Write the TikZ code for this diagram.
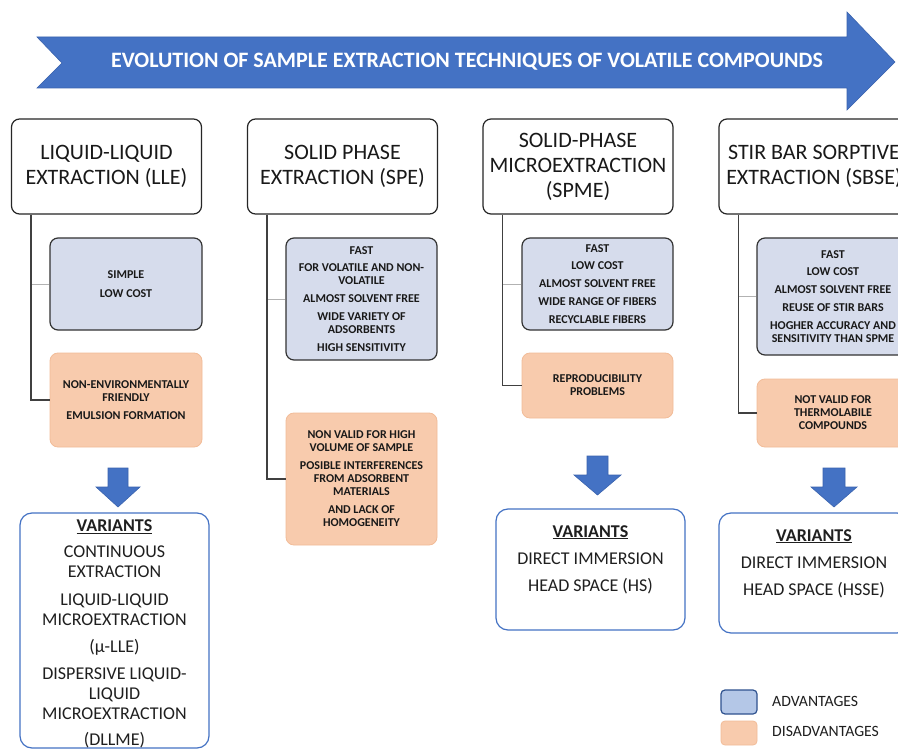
\documentclass[tikz,border=0pt]{standalone}
\usepackage{fontspec}
\setmainfont{Carlito}
\definecolor{arrowblue}{HTML}{4472C4}
\definecolor{arrowedge}{HTML}{3A63AE}
\definecolor{advfill}{HTML}{D6DCEC}
\definecolor{disfill}{HTML}{F8CBAD}
\definecolor{disedge}{HTML}{F2BC98}
\definecolor{legadv}{HTML}{B4C7E7}
\definecolor{legedge}{HTML}{2F528F}
\tikzset{
  hdr/.style={draw=black!85, line width=1.2pt, rounded corners=8pt, fill=white,
    align=center, inner sep=0pt, minimum width=190pt, minimum height=95pt,
    font=\fontsize{22}{25}\selectfont, text=black!90},
  advbox/.style={draw=black!80, line width=1.2pt, rounded corners=8pt, fill=advfill,
    align=center, inner sep=0pt, font=\bfseries\fontsize{12}{13}\selectfont, text=black!90},
  disbox/.style={draw=disedge, line width=0.8pt, rounded corners=8pt, fill=disfill,
    align=center, inner sep=0pt, font=\bfseries\fontsize{12}{13}\selectfont, text=black!90},
  varbox/.style={draw=arrowblue, line width=1.2pt, rounded corners=12pt, fill=white,
    inner sep=0pt},
  vartext/.style={align=center, anchor=north, inner sep=0pt,
    font=\fontsize{18}{20}\selectfont, text=black!88},
  conn/.style={draw=black!75, line width=1.6pt},
  lightconn/.style={draw=black!30, line width=0.8pt},
  downarrow/.style={fill=arrowblue, draw=arrowedge, line width=0.6pt},
  legtext/.style={anchor=west, inner sep=0pt, font=\fontsize{15.7}{18}\selectfont, text=black!88}
}
\begin{document}
\begin{tikzpicture}[x=1pt,y=-1pt]
\clip (0,0) rectangle (898,749);
\fill[white] (0,0) rectangle (898,749);
% title arrow
\filldraw[fill=arrowblue, draw=arrowedge, line width=0.6pt]
  (37,37) -- (847,37) -- (847,12) -- (895,62) -- (847,110) -- (847,88) -- (37,88) -- (62,63) -- cycle;
\node[text=white, font=\bfseries\fontsize{22}{24}\selectfont] (title) at (467,62)
  {EVOLUTION OF SAMPLE EXTRACTION TECHNIQUES OF VOLATILE COMPOUNDS};

% headers
\node[hdr] (h1) at (106.5,166.5) {LIQUID-LIQUID\\EXTRACTION (LLE)};
\node[hdr] (h2) at (342.5,166.5) {SOLID PHASE\\EXTRACTION (SPE)};
\node[hdr] (h3) at (578,166.5) {SOLID-PHASE\\MICROEXTRACTION\\(SPME)};
\node[hdr] (h4) at (814,166.5) {STIR BAR SORPTIVE\\EXTRACTION (SBSE)};

% advantage / disadvantage boxes
\node[advbox, minimum width=152pt, minimum height=92pt] (a1) at (126,284)
  {SIMPLE\\[6pt]LOW COST};
\node[disbox, minimum width=152pt, minimum height=94pt] (d1) at (126,400)
  {NON-ENVIRONMENTALLY\\FRIENDLY\\[5pt]EMULSION FORMATION};

\node[advbox, minimum width=151pt, minimum height=122pt] (a2) at (361.5,299)
  {FAST\\[4pt]FOR VOLATILE AND NON-\\VOLATILE\\[5pt]ALMOST SOLVENT FREE\\[5pt]WIDE VARIETY OF\\ADSORBENTS\\[5pt]HIGH SENSITIVITY};
\node[disbox, minimum width=151pt, minimum height=132pt] (d2) at (361.5,479)
  {NON VALID FOR HIGH\\VOLUME OF SAMPLE\\[5pt]POSIBLE INTERFERENCES\\FROM ADSORBENT\\MATERIALS\\[5pt]AND LACK OF\\HOMOGENEITY};

\node[advbox, minimum width=151pt, minimum height=92pt] (a3) at (597.5,284)
  {FAST\\[4pt]LOW COST\\[5pt]ALMOST SOLVENT FREE\\[5pt]WIDE RANGE OF FIBERS\\[5pt]RECYCLABLE FIBERS};
\node[disbox, minimum width=151pt, minimum height=65pt] (d3) at (597.5,385.5)
  {REPRODUCIBILITY\\PROBLEMS};

\node[advbox, minimum width=152pt, minimum height=117pt] (a4) at (833,296.5)
  {FAST\\[4pt]LOW COST\\[5pt]ALMOST SOLVENT FREE\\[5pt]REUSE OF STIR BARS\\[5pt]HOGHER ACCURACY AND\\SENSITIVITY THAN SPME};
\node[disbox, minimum width=152pt, minimum height=68pt] (d4) at (833,413)
  {NOT VALID FOR\\THERMOLABILE\\COMPOUNDS};

% connectors
\foreach \h/\a/\d in {h1/a1/d1, h2/a2/d2, h3/a3/d3, h4/a4/d4}{
  \coordinate (\h top) at ([xshift=20pt]\h.south west);
  \draw[lightconn] (\h top |- \a.west) -- (\a.west);
  \draw[conn] (\h top) |- (\d.west);
}

% down arrows
\filldraw[downarrow] (108,468) -- (128,468) -- (128,487) -- (140,487) -- (118,507) -- (96,487) -- (108,487) -- cycle;
\filldraw[downarrow] (587,456) -- (608,456) -- (608,475) -- (621,475) -- (597.5,495) -- (574,475) -- (587,475) -- cycle;
\filldraw[downarrow] (823,468) -- (845,468) -- (845,487) -- (857,487) -- (834,507) -- (811,487) -- (823,487) -- cycle;

% variants boxes
\node[varbox, minimum width=189pt, minimum height=235pt] (v1) at (114.5,630.5) {};
\node[vartext] (v1t) at (114.5,519.5)
  {\textbf{\underline{VARIANTS}}\\[6pt]CONTINUOUS\\EXTRACTION\\[8pt]LIQUID-LIQUID\\MICROEXTRACTION\\[7pt](μ-LLE)\\[7pt]DISPERSIVE LIQUID-\\LIQUID\\MICROEXTRACTION\\[6pt](DLLME)};
\node[varbox, minimum width=189pt, minimum height=121pt] (v3) at (590.5,569.5) {};
\node[vartext] (v3t) at (590.5,525)
  {\textbf{\underline{VARIANTS}}\\[7pt]DIRECT IMMERSION\\[7pt]HEAD SPACE (HS)};
\node[varbox, minimum width=190pt, minimum height=120pt] (v4) at (814,573) {};
\node[vartext] (v4t) at (814,529)
  {\textbf{\underline{VARIANTS}}\\[7pt]DIRECT IMMERSION\\[7pt]HEAD SPACE (HSSE)};

% legend
\node[draw=legedge, fill=legadv, line width=1.2pt, rounded corners=4pt, minimum width=36pt, minimum height=24pt, inner sep=0pt] (lega) at (739,702) {};
\node[draw=disedge, fill=disfill, line width=0.8pt, rounded corners=4pt, minimum width=36pt, minimum height=24pt, inner sep=0pt] (legd) at (739,733) {};
\node[legtext] (legat) at (772,701) {ADVANTAGES};
\node[legtext] (legdt) at (772,731) {DISADVANTAGES};
\end{tikzpicture}
\end{document}
